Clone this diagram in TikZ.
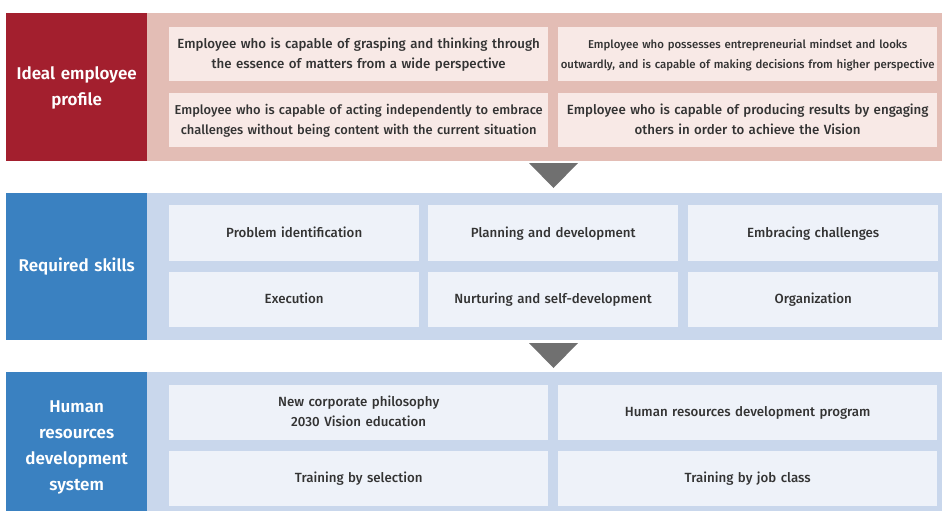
\documentclass[tikz,border=0pt]{standalone}
\usepackage{fontspec}
\setmainfont{Fira Sans}[UprightFont={* Medium}, BoldFont={* SemiBold}]
\usetikzlibrary{positioning}
\definecolor{tagRed}{HTML}{A31F2E}
\definecolor{panelRed}{HTML}{E3BDB5}
\definecolor{cellRed}{HTML}{F8E9E6}
\definecolor{tagBlue}{HTML}{3A81C1}
\definecolor{panelBlue}{HTML}{C9D7EC}
\definecolor{cellBlue}{HTML}{EEF2F9}
\definecolor{txtGray}{HTML}{333333}
\definecolor{arrGray}{HTML}{707070}
\tikzset{
  tag/.style={fill=#1, text=white, anchor=north west, inner sep=0pt, align=center,
    minimum width=141pt, text width=141pt,
    font=\bfseries\fontsize{17}{26}\selectfont,
    execute at begin node=\noindent\strut, execute at end node=\strut},
  panel/.style={fill=#1, anchor=north west, inner sep=0pt, minimum width=795pt},
  cell/.style={fill=#1, text=txtGray, anchor=north west, inner sep=0pt, align=center,
    font=\fontsize{13.3}{20}\selectfont,
    execute at begin node=\noindent\strut, execute at end node=\strut},
  wide/.style={minimum width=379pt, text width=379pt},
  narrow/.style={minimum width=250pt, text width=250pt},
}
\begin{document}
\begin{tikzpicture}[x=1pt, y=-1pt]
		\useasboundingbox (0,0) rectangle (945,511);
		\clip (0,0) rectangle (945,511);
		%-------------------------------------------------------------------------------
		% ideal employee profile
		%-------------------------------------------------------------------------------
		\node[tag=tagRed, minimum height=148pt] (ideal) 
			at (6,13) {Ideal employee\\profile};
		\node[panel=panelRed, minimum height=148pt] (idealp) 
			at (147,13) {};
		\node[cell=cellRed, wide, minimum height=54pt] (essence) 
			at (169,27) {Employee who is capable of grasping and thinking through\\the essence of matters from a wide perspective};
		\node[cell=cellRed, wide, minimum height=54pt, font=\fontsize{11.4}{20}\selectfont] (outward) 
			at (558,27) {Employee who possesses entrepreneurial mindset and looks\\outwardly, and is capable of making decisions from higher perspective};
		\node[cell=cellRed, wide, minimum height=54pt, font=\fontsize{12.9}{20}\selectfont] (embrace) 
			at (169,93) {Employee who is capable of acting independently to embrace\\challenges without being content with the current situation};
		\node[cell=cellRed, wide, minimum height=54pt] (engage) 
			at (558,93) {Employee who is capable of producing results by engaging\\others in order to achieve the Vision};
		
		% arrow
		\fill[arrGray] (529,163) -- (578,163) -- (553.5,188) -- cycle;
		
		%-------------------------------------------------------------------------------
		% required skills
		%-------------------------------------------------------------------------------
		\node[tag=tagBlue, minimum height=147pt] (skills) 
			at (6,193) {Required skills};
		\node[panel=panelBlue, minimum height=147pt] (skillsp) 
			at (147,193) {};
		\node[cell=cellBlue, narrow, minimum height=56pt] (problem) 
			at (169,205) {Problem identification};
		\node[cell=cellBlue, narrow, minimum height=56pt] (planning) 
			at (428,205) {Planning and development};
		\node[cell=cellBlue, narrow, minimum height=56pt] (challenge) 
			at (688,205) {Embracing challenges};
		\node[cell=cellBlue, narrow, minimum height=55pt] (execution) 
			at (169,272) {Execution};
		\node[cell=cellBlue, narrow, minimum height=55pt] (nurture) 
			at (428,272) {Nurturing and self-development};
		\node[cell=cellBlue, narrow, minimum height=55pt] (organize) 
			at (688,272) {Organization};
		
		% arrow
		\fill[arrGray] (529,343) -- (578,343) -- (553.5,368) -- cycle;
		
		%-------------------------------------------------------------------------------
		% human resources development system (runs past the lower edge)
		%-------------------------------------------------------------------------------
		\node[tag=tagBlue, minimum height=148pt] (hrds) 
			at (6,372) {Human\\resources\\development\\system};
		\node[panel=panelBlue, minimum height=148pt] (hrdsp) 
			at (147,372) {};
		\node[cell=cellBlue, wide, minimum height=55pt] (philosophy) 
			at (169,385) {New corporate philosophy\\2030 Vision education};
		\node[cell=cellBlue, wide, minimum height=55pt] (program) 
			at (558,385) {Human resources development program};
		\node[cell=cellBlue, wide, minimum height=55pt] (selection) 
			at (169,451) {Training by selection};
		\node[cell=cellBlue, wide, minimum height=55pt] (jobclass) 
			at (558,451) {Training by job class};
\end{tikzpicture}
\end{document}
